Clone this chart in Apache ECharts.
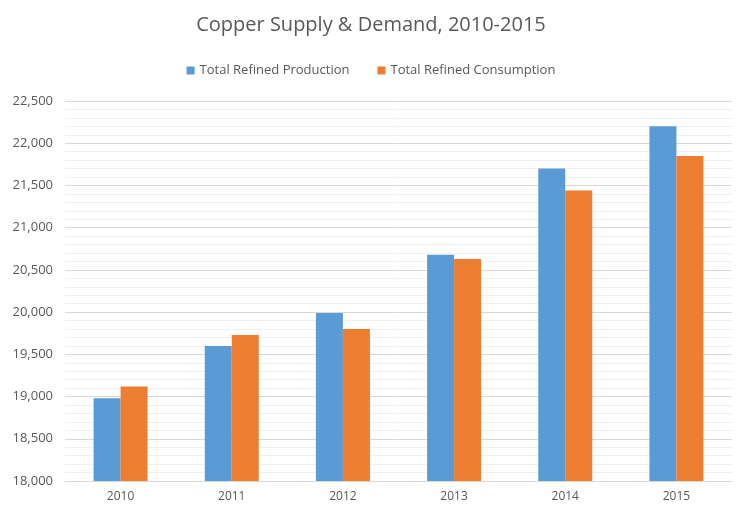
<!DOCTYPE html>
<html>
<head>
<meta charset="utf-8">
<script src="https://cdn.jsdelivr.net/npm/echarts@6/dist/echarts.min.js"></script>
<style>html,body{margin:0;padding:0;background:#fff;}#main{width:742px;height:515px;}</style>
</head>
<body>
<div id="main"></div>
<script>
const years = ['2010', '2011', '2012', '2013', '2014', '2015'];
const production = [18980, 19600, 19990, 20680, 21700, 22200];
const consumption = [19120, 19730, 19800, 20630, 21440, 21850];

const chart = echarts.init(document.getElementById('main'));
const font = 'Open Sans, Liberation Sans, sans-serif';
chart.setOption({
  animation: false,
  textStyle: { fontFamily: font },
  title: {
    text: 'Copper Supply & Demand, 2010-2015',
    left: 'center', top: 10,
    textStyle: { fontSize: 20, fontWeight: 'normal', color: '#595959', fontFamily: font }
  },
  legend: {
    top: 59, left: 'center', itemWidth: 8, itemHeight: 8, itemGap: 28,
    icon: 'rect',
    textStyle: { fontSize: 13, color: '#595959' },
    data: ['Total Refined Production', 'Total Refined Consumption']
  },
  grid: { left: 65, right: 10, top: 101, bottom: 34 },
  xAxis: {
    type: 'category', data: years,
    axisLine: { lineStyle: { color: '#d9d9d9' } },
    axisTick: { show: false },
    axisLabel: { color: '#595959', fontSize: 12, margin: 10 }
  },
  yAxis: {
    type: 'value', min: 18000, max: 22500, interval: 500,
    axisLabel: { color: '#595959', fontSize: 13, margin: 12,
      formatter: v => v.toLocaleString('en-US') },
    splitLine: { lineStyle: { color: '#d9d9d9' } },
    minorTick: { show: false, splitNumber: 5 },
    minorSplitLine: { show: true, lineStyle: { color: '#f0f0f0' } }
  },
  series: [
    { name: 'Total Refined Production', type: 'bar', data: production,
      barWidth: 27, barGap: '0%', itemStyle: { color: '#5b9bd5' } },
    { name: 'Total Refined Consumption', type: 'bar', data: consumption,
      barWidth: 27, itemStyle: { color: '#ed7d31' } }
  ]
});
</script>
</body>
</html>
